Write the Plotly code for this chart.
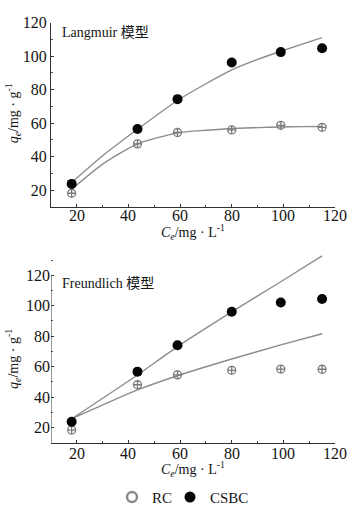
import plotly.graph_objects as go

# ---- data ----
ce = [18, 43.5, 59, 80, 99, 115]

# Langmuir panel (points)
csbc_l = [23.7, 56.5, 74.3, 96.2, 102.4, 104.7]
rc_l = [18.1, 47.6, 54.4, 55.9, 58.7, 57.5]
# Langmuir fitted curves
fit_x_l = [18, 30, 43.5, 59, 70, 80, 90, 99, 107, 115]
csbc_fit_l = [24.5, 40.5, 56.3, 73.5, 83.5, 91.8, 98.0, 102.9, 107.0, 111.0]
rc_fit_l = [20.5, 35.5, 47.6, 54.2, 55.7, 56.8, 57.3, 57.7, 57.9, 58.0]

# Freundlich panel (points)
csbc_f = [23.8, 56.7, 74.1, 96.1, 102.2, 104.4]
rc_f = [18.3, 48.1, 54.6, 57.6, 58.4, 58.3]
# Freundlich fitted lines
csbc_fit_f = [25.7, 54.5, 73.2, 96.0, 115.8, 132.8]
rc_fit_f = [25.7, 44.7, 54.0, 65.0, 74.3, 81.6]

xticks = [20, 40, 60, 80, 100, 120]
yticks = [20, 40, 60, 80, 100, 120]

W, H = 352, 514
FONT = "Liberation Serif, Times New Roman, serif"
INK = "#141414"
LINE = "#8c8c8c"
RC_COL = "#7a7a7a"

fig = go.Figure()

def add_panel(xa, ya, fx, cs_fit, rc_fit, cs_pts, rc_pts):
    fig.add_trace(go.Scatter(x=fx, y=cs_fit, mode="lines", line=dict(color=LINE, width=1.4, shape="spline", smoothing=0.6),
                             xaxis=xa, yaxis=ya, showlegend=False, hoverinfo="skip"))
    fig.add_trace(go.Scatter(x=fx, y=rc_fit, mode="lines", line=dict(color=LINE, width=1.4, shape="spline", smoothing=0.6),
                             xaxis=xa, yaxis=ya, showlegend=False, hoverinfo="skip"))
    fig.add_trace(go.Scatter(x=ce, y=rc_pts, mode="markers",
                             marker=dict(symbol="circle-cross-open", size=8, color=RC_COL, line=dict(width=1.3, color=RC_COL)),
                             xaxis=xa, yaxis=ya, showlegend=False, cliponaxis=False))
    fig.add_trace(go.Scatter(x=ce, y=cs_pts, mode="markers",
                             marker=dict(symbol="circle", size=10, color="#050505"),
                             xaxis=xa, yaxis=ya, showlegend=False, cliponaxis=False))

add_panel("x", "y", fit_x_l, csbc_fit_l, rc_fit_l, csbc_l, rc_l)
add_panel("x2", "y2", ce, csbc_fit_f, rc_fit_f, csbc_f, rc_f)

# legend-only traces
fig.add_trace(go.Scatter(x=[None], y=[None], mode="markers", name="RC", legend="legend",
                         marker=dict(symbol="circle-open", size=10, color="#8a8a8a", line=dict(width=2.5, color="#9a9a9a"))))
fig.add_trace(go.Scatter(x=[None], y=[None], mode="markers", name="CSBC", legend="legend2",
                         marker=dict(symbol="circle", size=11, color="#050505")))

xd = [51 / W, 335 / W]
top_dom = [(H - 204) / H, (H - 15) / H]
bot_dom = [(H - 446) / H, (H - 253.2) / H]

axis_common = dict(showgrid=False, zeroline=False, ticks="inside", ticklen=3, tickwidth=1,
                   tickcolor="#333", tickfont=dict(family=FONT, size=16, color=INK),
                   minor=dict(ticks="inside", ticklen=2, dtick=10, tickcolor="#555"))

leg_common = dict(orientation="h", xanchor="left", y=(H - 502) / H, yanchor="middle",
                  font=dict(family=FONT, size=15, color=INK), itemwidth=30,
                  bgcolor="rgba(0,0,0,0)")

fig.update_layout(
    width=W, height=H, margin=dict(l=0, r=0, t=0, b=0),
    paper_bgcolor="white", plot_bgcolor="white",
    font=dict(family=FONT, color=INK),
    xaxis=dict(domain=xd, range=[10, 120], tickvals=xticks, anchor="y", showticklabels=False,
               showline=True, linecolor="#333", linewidth=1, **axis_common),
    yaxis=dict(domain=top_dom, range=[10, 120], tickvals=yticks, anchor="x",
               showline=True, linecolor="#333", linewidth=1, **axis_common),
    xaxis2=dict(domain=xd, range=[10, 120], tickvals=xticks, anchor="y2", showticklabels=False,
                showline=True, linecolor="#333", linewidth=1, **axis_common),
    yaxis2=dict(domain=bot_dom, range=[10, 133.5], tickvals=yticks, anchor="x2",
                showline=False, **axis_common),
    legend=dict(x=(132 - 20) / W, **leg_common),
    legend2=dict(x=(190 - 20) / W, **leg_common),
    showlegend=True,
)

# left axis line of lower panel only up to 120
fig.add_shape(type="line", xref="x2", yref="y2", x0=10, x1=10, y0=10, y1=120,
              line=dict(color="#333", width=1))

xt = "<i>C</i><sub><i>e</i></sub>/mg · L<sup>-1</sup>"
yt = "<i>q</i><sub><i>e</i></sub>/mg · g<sup>-1</sup>"
ann = [
    dict(text="Langmuir 模型", x=60 / W, y=(H - 25) / H, xanchor="left", yanchor="middle", font=dict(size=14)),
    dict(text="Freundlich 模型", x=60 / W, y=(H - 283) / H, xanchor="left", yanchor="middle", font=dict(size=14)),
    dict(text=xt, x=193 / W, y=(H - 230) / H, xanchor="center", yanchor="middle", font=dict(size=14)),
    dict(text=xt, x=193 / W, y=(H - 473) / H, xanchor="center", yanchor="middle", font=dict(size=14)),
    dict(text=yt, x=13 / W, y=(H - 108) / H, xanchor="center", yanchor="middle", textangle=-90, font=dict(size=14)),
    dict(text=yt, x=13 / W, y=(H - 360) / H, xanchor="center", yanchor="middle", textangle=-90, font=dict(size=14)),
]
for a in ann:
    a.update(xref="paper", yref="paper", showarrow=False)
    a["font"] = dict(family=FONT + ", Noto Sans CJK SC", color=INK, **a["font"])

# x tick labels placed just under each axis
for xr, ypix in (("x", 213), ("x2", 457)):
    for v in xticks:
        ann.append(dict(text=str(v), x=v, xref=xr, y=(H - ypix) / H, yref="paper", showarrow=False,
                        xanchor="center", yanchor="middle", font=dict(family=FONT, size=16, color=INK)))
fig.update_layout(annotations=ann)

fig.write_html("out.html")
